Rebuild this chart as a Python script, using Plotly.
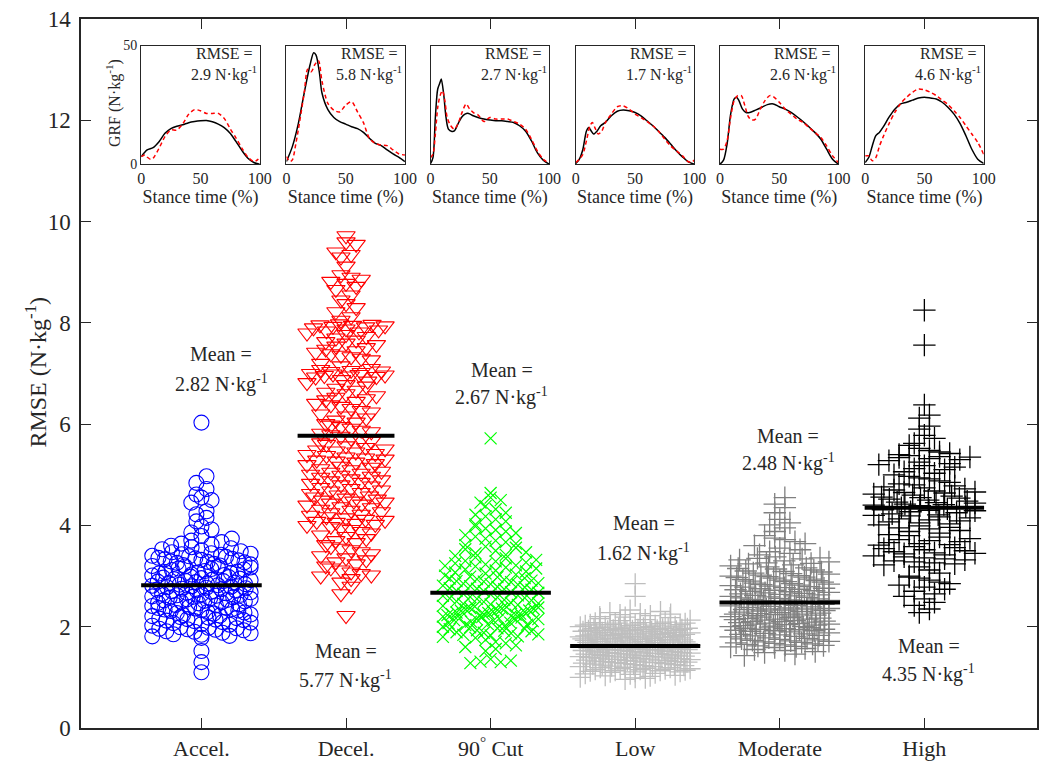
import math
import numpy as np
import plotly.graph_objects as go

# ---------------- data ----------------
categories = ["Accel.", "Decel.", "90<sup>°</sup> Cut", "Low", "Moderate", "High"]
means = [2.82, 5.77, 2.67, 1.62, 2.48, 4.35]
rmse_inset = [2.9, 5.8, 2.7, 1.7, 2.6, 4.6]

accel = [1.10, 1.30, 1.52,
         1.78, 1.82, 1.85, 1.88, 1.91, 1.93, 1.95, 1.97, 1.84, 1.99, 1.90, 1.87, 1.96, 1.81, 1.94, 1.98,
         2.02, 2.05, 2.08, 2.11, 2.13, 2.16, 2.18, 2.21, 2.23, 2.26, 2.28, 2.31, 2.33, 2.36, 2.38, 2.41,
         2.43, 2.46, 2.48, 2.04, 2.09, 2.14, 2.19, 2.24, 2.29, 2.34, 2.39, 2.44, 2.49, 2.07, 2.12, 2.17,
         2.22, 2.27, 2.32, 2.37, 2.42, 2.47, 2.15, 2.35,
         2.51, 2.53, 2.55, 2.57, 2.59, 2.61, 2.63, 2.65, 2.67, 2.69, 2.71, 2.73, 2.75, 2.77, 2.79, 2.81,
         2.83, 2.85, 2.87, 2.89, 2.91, 2.93, 2.95, 2.97, 2.99, 2.52, 2.56, 2.60, 2.64, 2.68, 2.72, 2.76,
         2.80, 2.84, 2.88, 2.92, 2.96, 2.54, 2.62, 2.70, 2.78, 2.86, 2.94, 2.58, 2.66, 2.74, 2.82, 2.90,
         2.98, 2.50,
         3.01, 3.03, 3.05, 3.08, 3.10, 3.12, 3.15, 3.17, 3.19, 3.22, 3.24, 3.26, 3.29, 3.31, 3.33, 3.36,
         3.38, 3.40, 3.43, 3.45, 3.47, 3.02, 3.07, 3.13, 3.18, 3.23, 3.28, 3.34, 3.39, 3.44, 3.49, 3.06,
         3.14, 3.21, 3.27, 3.35, 3.42, 3.09, 3.20, 3.32,
         3.51, 3.53, 3.55, 3.57, 3.60, 3.62, 3.64, 3.67, 3.70, 3.74, 3.79, 3.86, 3.92, 3.98,
         4.08, 4.15, 4.22, 4.28, 4.45, 4.50,
         4.55, 4.61, 4.72, 4.84, 4.97,
         6.03]

decel = [9.72, 9.60, 9.55,
         9.40, 9.35, 9.30, 9.12,
         8.95, 8.90, 8.86, 8.82, 8.78, 8.72, 8.66, 8.55,
         8.45, 8.38, 8.30, 8.22, 8.12, 8.05,
         7.98, 7.97, 7.96, 7.95, 7.94, 7.93, 7.92, 7.90, 7.88, 7.86, 7.84, 7.82, 7.80, 7.77,
         7.73, 7.70, 7.66, 7.63, 7.60, 7.57, 7.54, 7.51,
         7.48, 7.45, 7.42, 7.39, 7.36, 7.33, 7.30, 7.27,
         7.10, 7.08, 7.06, 7.05, 7.04, 7.02, 7.00, 6.99, 6.98, 6.97, 6.96, 6.95, 6.94, 6.93, 7.20, 7.15,
         6.88, 6.85, 6.82, 6.78, 6.75, 6.71, 6.67, 6.63, 6.60, 6.56, 6.53, 6.50,
         6.48, 6.45, 6.41, 6.38, 6.35, 6.31, 6.27, 6.24, 6.20, 6.16, 6.12, 6.08, 6.04, 6.01,
         5.98, 5.95, 5.92, 5.88, 5.85, 5.82, 5.79, 5.76, 5.72, 5.69, 5.66, 5.63, 5.60, 5.57, 5.54, 5.51,
         5.49, 5.47, 5.45, 5.42, 5.40, 5.38, 5.35, 5.33, 5.31, 5.29, 5.27, 5.25, 5.22, 5.20, 5.17, 5.15,
         5.12, 5.10, 5.07, 5.05, 5.03, 5.01,
         4.99, 4.97, 4.95, 4.92, 4.90, 4.88, 4.85, 4.83, 4.80, 4.78, 4.75, 4.73, 4.70, 4.68, 4.65, 4.63,
         4.60, 4.58, 4.56, 4.54, 4.52, 4.50,
         4.48, 4.46, 4.44, 4.42, 4.40, 4.37, 4.35, 4.32, 4.30, 4.27, 4.25, 4.22, 4.20, 4.17, 4.15, 4.12,
         4.10, 4.08, 4.06, 4.04, 4.02, 4.00,
         3.98, 3.95, 3.92, 3.88, 3.85, 3.81, 3.78, 3.74, 3.70, 3.66, 3.62, 3.58, 3.55, 3.52,
         3.48, 3.44, 3.40, 3.36, 3.32, 3.28, 3.24, 3.20, 3.16, 3.12, 3.08, 3.05, 3.02, 3.00,
         2.95, 2.88, 2.80, 2.65,
         2.22]

cut90 = [5.72,
         4.64, 4.55, 4.50,
         4.45, 4.38, 4.32, 4.25, 4.21,
         4.18, 4.12, 4.08, 4.02, 3.98, 3.94, 3.91,
         3.88, 3.85, 3.81, 3.78, 3.74, 3.70, 3.67, 3.64, 3.61,
         3.58, 3.56, 3.53, 3.50, 3.47, 3.45, 3.42, 3.40, 3.37, 3.35, 3.32, 3.30,
         3.29, 3.27, 3.25, 3.23, 3.21, 3.19, 3.17, 3.15, 3.13, 3.11, 3.09, 3.07, 3.05, 3.03, 3.01, 3.20,
         2.70, 2.71, 2.73, 2.74, 2.75, 2.76, 2.78, 2.79, 2.80, 2.81, 2.83, 2.84, 2.85, 2.86, 2.88, 2.89,
         2.90, 2.91, 2.93, 2.94, 2.95, 2.96, 2.98, 2.99,
         2.40, 2.41, 2.43, 2.44, 2.46, 2.47, 2.49, 2.50, 2.52, 2.53, 2.55, 2.56, 2.58, 2.59, 2.61, 2.62,
         2.64, 2.65, 2.67, 2.68, 2.45, 2.57,
         2.10, 2.11, 2.12, 2.13, 2.14, 2.15, 2.16, 2.17, 2.18, 2.19, 2.20, 2.21, 2.22, 2.23, 2.24, 2.25,
         2.26, 2.27, 2.28, 2.29, 2.30, 2.31, 2.32, 2.33, 2.34, 2.35, 2.36, 2.37, 2.38, 2.39, 2.15, 2.25,
         1.80, 1.81, 1.83, 1.84, 1.85, 1.87, 1.88, 1.89, 1.91, 1.92, 1.93, 1.95, 1.96, 1.97, 1.99, 2.00,
         2.01, 2.03, 2.04, 2.05, 2.07, 2.08,
         1.52, 1.56, 1.60, 1.63, 1.67, 1.70, 1.74, 1.78,
         1.28, 1.30, 1.31, 1.33, 1.36]

low = [2.85, 2.60,
       2.12, 2.14, 2.16, 2.18, 2.20, 2.22, 2.24, 2.26, 2.28, 2.30, 2.33, 2.13, 2.19, 2.25,
       1.90, 1.91, 1.92, 1.93, 1.94, 1.95, 1.96, 1.97, 1.98, 1.99, 2.00, 2.01, 2.02, 2.03, 2.04, 2.05,
       2.06, 2.07, 2.08, 2.09, 1.91, 1.93, 1.95, 1.97, 1.99, 2.01, 2.03, 2.05, 2.07, 1.92, 1.96, 2.00,
       2.04, 2.08, 1.94, 1.98,
       1.70, 1.71, 1.72, 1.73, 1.74, 1.75, 1.76, 1.77, 1.78, 1.79, 1.80, 1.81, 1.82, 1.83, 1.84, 1.85,
       1.86, 1.87, 1.88, 1.89, 1.70, 1.72, 1.74, 1.76, 1.78, 1.80, 1.82, 1.84, 1.86, 1.88, 1.71, 1.73,
       1.75, 1.77, 1.79, 1.81, 1.83, 1.85, 1.87, 1.89, 1.75, 1.80, 1.85, 1.78,
       1.50, 1.51, 1.52, 1.53, 1.54, 1.55, 1.56, 1.57, 1.58, 1.59, 1.60, 1.61, 1.62, 1.63, 1.64, 1.65,
       1.66, 1.67, 1.68, 1.69, 1.50, 1.52, 1.54, 1.56, 1.58, 1.60, 1.62, 1.64, 1.66, 1.68, 1.51, 1.53,
       1.55, 1.57, 1.59, 1.61, 1.63, 1.65, 1.67, 1.69, 1.55, 1.60, 1.65, 1.62,
       1.30, 1.31, 1.32, 1.33, 1.34, 1.35, 1.36, 1.37, 1.38, 1.39, 1.40, 1.41, 1.42, 1.43, 1.44, 1.45,
       1.46, 1.47, 1.48, 1.49, 1.30, 1.32, 1.34, 1.36, 1.38, 1.40, 1.42, 1.44, 1.46, 1.48, 1.31, 1.33,
       1.35, 1.37, 1.39, 1.41, 1.43, 1.45, 1.47, 1.49,
       1.10, 1.11, 1.12, 1.13, 1.14, 1.15, 1.16, 1.17, 1.18, 1.19, 1.20, 1.21, 1.22, 1.23, 1.24, 1.25,
       1.26, 1.27, 1.28, 1.29, 1.11, 1.13, 1.15, 1.17, 1.19, 1.21, 1.23, 1.25, 1.27, 1.29,
       0.96, 0.98, 1.00, 1.02, 1.04, 1.06, 1.08, 0.99, 1.03, 1.07]

moderate = [4.55, 4.42, 4.35,
            4.25, 4.12, 4.05, 4.01,
            3.95, 3.88, 3.80, 3.75, 3.72,
            3.68, 3.64, 3.60, 3.55, 3.52, 3.48, 3.45, 3.42,
            3.38, 3.36, 3.34, 3.32, 3.30, 3.28, 3.26, 3.24, 3.22, 3.20, 3.18, 3.16, 3.14, 3.12, 3.10,
            3.35, 3.25, 3.15,
            2.80, 2.81, 2.82, 2.84, 2.85, 2.86, 2.88, 2.89, 2.90, 2.92, 2.93, 2.94, 2.96, 2.97, 2.98,
            3.00, 3.01, 3.02, 3.04, 3.05, 3.06, 3.08, 3.09, 2.83, 2.91, 2.99,
            2.50, 2.51, 2.52, 2.53, 2.54, 2.55, 2.56, 2.57, 2.58, 2.59, 2.60, 2.61, 2.62, 2.63, 2.64,
            2.65, 2.66, 2.67, 2.68, 2.69, 2.70, 2.71, 2.72, 2.73, 2.74, 2.75, 2.76, 2.77, 2.78, 2.79,
            2.20, 2.21, 2.22, 2.23, 2.24, 2.25, 2.26, 2.27, 2.28, 2.29, 2.30, 2.31, 2.32, 2.33, 2.34,
            2.35, 2.36, 2.37, 2.38, 2.39, 2.40, 2.41, 2.42, 2.43, 2.44, 2.45, 2.46, 2.47, 2.48, 2.49,
            2.25, 2.35,
            1.90, 1.91, 1.92, 1.93, 1.94, 1.95, 1.96, 1.97, 1.98, 1.99, 2.00, 2.01, 2.02, 2.03, 2.04,
            2.05, 2.06, 2.07, 2.08, 2.09, 2.10, 2.11, 2.12, 2.13, 2.14, 2.15, 2.16, 2.17, 2.18, 2.19,
            1.95, 2.00, 2.05, 2.10, 2.15, 1.92,
            1.60, 1.61, 1.62, 1.63, 1.65, 1.66, 1.67, 1.68, 1.70, 1.71, 1.72, 1.73, 1.75, 1.76, 1.77,
            1.78, 1.80, 1.81, 1.82, 1.83, 1.85, 1.86, 1.87, 1.88, 1.64, 1.74, 1.84, 1.69,
            1.43, 1.46, 1.49, 1.51, 1.53, 1.55, 1.57, 1.59]

high = [8.25, 7.56,
        6.38, 6.18, 6.12,
        5.96, 5.90, 5.78, 5.72, 5.62,
        5.58, 5.52, 5.45, 5.40, 5.38, 5.36, 5.35, 5.34, 5.32, 5.30, 5.28, 5.25, 5.22, 5.20, 5.42, 5.48,
        5.18, 5.15, 5.12, 5.10, 5.06, 5.03, 5.00, 4.97, 4.94, 4.92, 4.88, 4.85, 4.82, 4.80,
        4.78, 4.76, 4.74, 4.72, 4.70, 4.68, 4.66, 4.64, 4.62, 4.60, 4.58, 4.56, 4.54, 4.52, 4.50, 4.48,
        4.46, 4.44, 4.42, 4.40, 4.45, 4.55, 4.65, 4.41,
        4.39, 4.37, 4.35, 4.33, 4.31, 4.29, 4.27, 4.25, 4.23, 4.21, 4.19, 4.17, 4.15, 4.13, 4.11, 4.09,
        4.07, 4.05, 4.03, 4.01, 4.20, 4.30,
        3.99, 3.96, 3.93, 3.90, 3.88, 3.85, 3.82, 3.80, 3.77, 3.74, 3.72, 3.70, 3.68, 3.66, 3.64, 3.62,
        3.61, 3.95,
        3.58, 3.56, 3.54, 3.52, 3.50, 3.48, 3.46, 3.44, 3.42, 3.40, 3.38, 3.36, 3.34, 3.32, 3.30, 3.28,
        3.26, 3.24, 3.22, 3.45,
        3.18, 3.12, 3.06, 3.00, 2.96, 2.92, 2.88, 2.85, 2.82, 2.98,
        2.78, 2.74, 2.70, 2.65, 2.60, 2.55,
        2.48, 2.42, 2.35, 2.28]

groups = [accel, decel, cut90, low, moderate, high]

# inset GRF curves (stance time %, GRF N/kg): measured (black) and predicted (red dashed)
meas_t = [
    [0, 5, 10, 15, 20, 25, 30, 35, 40, 45, 50, 55, 60, 65, 70, 75, 80, 85, 90, 95, 100],
    [0, 5, 10, 15, 20, 23, 25, 28, 30, 35, 40, 45, 50, 55, 60, 65, 70, 75, 80, 85, 90, 95, 100],
    [0, 2, 4, 6, 8, 9, 11, 13, 15, 18, 20, 23, 26, 29, 32, 36, 40, 45, 50, 55, 60, 65, 70, 75, 80, 85, 90, 95, 100],
    [0, 3, 6, 9, 11, 13, 15, 18, 21, 25, 30, 35, 40, 45, 50, 55, 60, 65, 70, 75, 80, 85, 90, 95, 100],
    [0, 3, 6, 9, 12, 14, 16, 19, 22, 25, 30, 35, 40, 45, 50, 55, 60, 65, 70, 75, 80, 85, 90, 95, 100],
    [0, 3, 6, 9, 12, 15, 20, 25, 30, 35, 40, 45, 50, 55, 60, 65, 70, 75, 80, 85, 90, 95, 100],
]
meas_f = [
    [3.2, 6, 7, 9.5, 13, 15, 16, 16.6, 17.5, 18, 18.3, 18.4, 17.9, 16.9, 15.4, 13, 9.5, 5.7, 2.5, 0.7, 0],
    [1.1, 7.4, 17, 30, 42, 47, 46, 38, 30, 23, 19.7, 17.9, 16.9, 15.8, 15, 13.4, 10.9, 8.8, 7.8, 6, 4.3, 2.9, 1.1],
    [0.3, 2.8, 19.7, 31.7, 34.5, 35.9, 29.6, 19.7, 14.8, 13.8, 14, 16.9, 19.7, 21.1, 21.4, 20.4, 19.7, 19, 18.6,
     18.3, 18.3, 18, 17.6, 16.2, 14, 9.9, 4.9, 1.7, 0],
    [0.3, 2.1, 6.3, 14, 15.5, 14, 12.7, 14, 16.2, 17.6, 20.4, 22.3, 22.8, 22.5, 21.8, 20.4, 18.3, 16.2, 13.8, 11.3,
     8.5, 5.6, 3.1, 1, 0],
    [0, 1.7, 8.5, 21.1, 27.5, 28.2, 26.8, 23.2, 21.8, 21.8, 22.8, 23.9, 25.1, 25.4, 24.2, 23.2, 21.8, 20, 18, 15.8,
     13.4, 10.6, 6.3, 2.1, 0],
    [0.7, 2.8, 7.7, 12, 13.4, 15.5, 19.7, 23.2, 25.4, 26.1, 27, 27.9, 28.2, 27.9, 27.5, 26.1, 23.9, 21.1, 17.2, 12,
     6.3, 2.1, 0.3],
]
pred_t = [
    [0, 3, 5, 8, 10, 15, 20, 25, 30, 35, 40, 45, 50, 55, 60, 65, 70, 75, 80, 85, 90, 95, 98, 100],
    [0, 3, 5, 8, 10, 15, 18, 21, 24, 27, 30, 35, 40, 45, 50, 55, 60, 65, 70, 75, 80, 85, 90, 95, 100],
    [0, 2, 4, 6, 8, 10, 12, 14, 17, 20, 23, 26, 30, 33, 37, 40, 45, 50, 55, 60, 65, 70, 75, 80, 85, 90, 95, 100],
    [0, 3, 6, 9, 12, 14, 16, 19, 22, 25, 30, 35, 40, 45, 50, 55, 60, 65, 70, 75, 80, 85, 90, 95, 98, 100],
    [0, 3, 6, 9, 12, 15, 18, 21, 24, 27, 30, 34, 38, 42, 45, 50, 55, 60, 65, 70, 75, 80, 85, 90, 95, 100],
    [0, 3, 6, 9, 12, 15, 20, 25, 30, 35, 40, 45, 50, 55, 60, 65, 70, 75, 80, 85, 90, 95, 100],
]
pred_f = [
    [3.2, 3.9, 3, 2, 2.5, 6.7, 11.6, 14.4, 14.4, 17, 21, 23, 22.5, 21.4, 21.4, 21.4, 19.3, 15, 11, 6.7, 3, 1.1, 1.8, 3.2],
    [3.2, 1.1, 1.8, 8.8, 14.4, 30, 40, 39, 42, 43.7, 35, 25.6, 22.8, 22, 24.9, 26.3, 22, 17.5, 10.9, 8.8, 8.1, 7.8,
     6, 4.3, 3.9],
    [2.8, 4.2, 12.7, 23.9, 28.9, 31, 26.8, 19.7, 16.2, 14.8, 16.9, 21.1, 25.4, 23.2, 21.4, 20.8, 18, 19.7, 19, 19,
     19, 18, 16.9, 14.8, 10.6, 5.6, 2.1, 0.3],
    [0.7, 2.1, 4.2, 9.9, 16.2, 17.6, 15.5, 12.7, 14, 17.6, 21.1, 24.2, 24.6, 23.2, 21.1, 19.7, 18, 16.2, 13.8, 10.6,
     7.7, 5.6, 3.5, 1, 1, 1.7],
    [6.3, 6.3, 9.9, 19.7, 26.8, 28.9, 28.9, 24.6, 20, 18.6, 19, 23.2, 26.8, 28.9, 28.5, 26.1, 23.2, 21.1, 19, 17.6,
     15.5, 13.4, 11.3, 7.7, 3.5, 0.7],
    [3.5, 3.5, 1.4, 2.8, 7.5, 11.3, 16.9, 21.8, 25.6, 28.2, 30.3, 31.7, 31.3, 30.3, 28.9, 27, 25.1, 22.5, 19.7,
     16.2, 12.7, 9.2, 4.2],
]

# ---------------- styles ----------------
FONT = "Liberation Serif, Times New Roman, serif"
TXT = "#262626"
W, H = 1056, 771
ML, MR, MT, MB = 81, 7, 15, 43
XR = [0.167, 6.779]
YR = [0, 14]

marker_styles = [
    dict(symbol="circle-open", size=15, color="#0000FF", line=dict(color="#0000FF", width=1.1)),
    dict(symbol="triangle-down-open", size=16, color="#FF0000", line=dict(color="#FF0000", width=1.1)),
    dict(symbol="x-thin", size=12, color="#00FF00", line=dict(color="#00FF00", width=1.2)),
    dict(symbol="cross-thin", size=15, color="#BEBEBE", line=dict(color="#BEBEBE", width=1.3)),
    dict(symbol="cross-thin", size=16, color="#808080", line=dict(color="#808080", width=1.3)),
    dict(symbol="cross-thin", size=16, color="#000000", line=dict(color="#000000", width=1.3)),
]
spread_max = [0.34, 0.27, 0.33, 0.38, 0.34, 0.35]
mean_halfwidth = [0.417, 0.335, 0.417, 0.45, 0.417, 0.413]
# (x, y of "Mean =" line, y of value line) in main-axis units
mean_label_pos = [(1.137, 7.38, 6.81), (1.998, 1.53, 0.96), (3.077, 7.07, 6.54),
                  (4.06, 4.04, 3.475), (5.06, 5.77, 5.24), (6.03, 1.61, 1.08)]


def spread(vals, wmax, c=0.035, binw=0.2):
    """plotSpread-like layout: points binned in y, spread in x proportional to bin count."""
    vals = np.asarray(vals, dtype=float)
    offs = np.zeros(len(vals))
    bins = np.floor(vals / binw).astype(int)
    for b in np.unique(bins):
        idx = np.where(bins == b)[0]
        idx = idx[np.argsort(vals[idx], kind="stable")]
        n = len(idx)
        if n == 1:
            continue
        half = min(wmax, c * (n - 1))
        slots = np.linspace(-half, half, n)
        p = max(1, int(round(n * 0.618)))
        while math.gcd(p, n) != 1:
            p += 1
        for i, k in enumerate(idx):
            offs[k] = slots[(i * p) % n]
    return offs


fig = go.Figure()

for gi, vals in enumerate(groups):
    xo = spread(vals, spread_max[gi])
    fig.add_trace(go.Scatter(
        x=(gi + 1) + xo, y=vals, mode="markers",
        marker=marker_styles[gi], showlegend=False, hoverinfo="skip",
        xaxis="x", yaxis="y"))

for gi, m in enumerate(means):
    hw = mean_halfwidth[gi]
    fig.add_trace(go.Scatter(
        x=[gi + 1 - hw, gi + 1 + hw], y=[m, m], mode="lines",
        line=dict(color="black", width=4), showlegend=False, hoverinfo="skip",
        xaxis="x", yaxis="y"))
    lx, ly1, ly2 = mean_label_pos[gi]
    fig.add_annotation(x=lx, y=ly1, xref="x", yref="y", text="Mean =",
                       showarrow=False, xanchor="center", yanchor="middle",
                       font=dict(family=FONT, size=20, color=TXT))
    fig.add_annotation(x=lx, y=ly2, xref="x", yref="y", text=f"{m:.2f} N·kg<sup>-1</sup>",
                       showarrow=False, xanchor="center", yanchor="middle",
                       font=dict(family=FONT, size=20, color=TXT))

# insets
inset_left_px = [142, 289, 435, 582, 728, 875]
inset_w_px = 120
inset_top_px, inset_bot_px = 41.7, 161
pw = W - ML - MR
ph = H - MT - MB
ydom = [(H - MB - inset_bot_px) / ph, (H - MB - inset_top_px) / ph]

layout_axes = {}
for i in range(6):
    k = i + 2
    xd = [(inset_left_px[i] - ML) / pw, (inset_left_px[i] + inset_w_px - ML) / pw]
    fig.add_trace(go.Scatter(x=meas_t[i], y=meas_f[i], mode="lines",
                             line=dict(color="black", width=1.5, shape="spline", smoothing=0.8),
                             showlegend=False, hoverinfo="skip", xaxis=f"x{k}", yaxis=f"y{k}"))
    fig.add_trace(go.Scatter(x=pred_t[i], y=pred_f[i], mode="lines",
                             line=dict(color="#FF0000", width=1.5, dash="4px,3px", shape="spline",
                                       smoothing=0.8),
                             showlegend=False, hoverinfo="skip", xaxis=f"x{k}", yaxis=f"y{k}"))
    layout_axes[f"xaxis{k}"] = dict(
        domain=xd, anchor=f"y{k}", range=[0, 100], tickvals=[0, 50, 100],
        showline=True, mirror=True, linecolor=TXT, linewidth=1.2, showgrid=False, zeroline=False,
        ticks="", tickfont=dict(family=FONT, size=16, color=TXT),
        title=dict(text="Stance time (%)", font=dict(family=FONT, size=18, color=TXT), standoff=3))
    layout_axes[f"yaxis{k}"] = dict(
        domain=ydom, anchor=f"x{k}", range=[0, 50], tickvals=[0, 50],
        showticklabels=(i == 0), showline=True, mirror=True, linecolor=TXT, linewidth=1.2,
        showgrid=False, zeroline=False, ticks="",
        tickfont=dict(family=FONT, size=14, color=TXT))
    fig.add_annotation(x=70, y=46.6, xref=f"x{k}", yref=f"y{k}", text="RMSE =",
                       showarrow=False, xanchor="center", yanchor="middle",
                       font=dict(family=FONT, size=16, color=TXT))
    fig.add_annotation(x=70, y=38.1, xref=f"x{k}", yref=f"y{k}",
                       text=f"{rmse_inset[i]:.1f} N·kg<sup>-1</sup>",
                       showarrow=False, xanchor="center", yanchor="middle",
                       font=dict(family=FONT, size=16, color=TXT))

# GRF inset y label
fig.add_annotation(x=(114 - ML) / pw, y=(H - MB - 100) / ph, xref="paper", yref="paper",
                   text="GRF (N·kg<sup>-1</sup>)", textangle=-90, showarrow=False,
                   xanchor="center", yanchor="middle",
                   font=dict(family=FONT, size=16, color=TXT))
# main y label
fig.add_annotation(x=(35 - ML) / pw, y=(H - MB - 370) / ph, xref="paper", yref="paper",
                   text="RMSE (N·kg<sup>-1</sup>)", textangle=-90, showarrow=False,
                   xanchor="center", yanchor="middle",
                   font=dict(family=FONT, size=24, color=TXT))

fig.update_layout(
    width=W, height=H, margin=dict(l=ML, r=MR, t=MT, b=MB, pad=0),
    paper_bgcolor="white", plot_bgcolor="white",
    xaxis=dict(range=XR, tickvals=[1, 2, 3, 4, 5, 6], ticktext=categories,
               ticks="inside", ticklen=10, tickcolor=TXT, showline=True, mirror="ticks",
               linecolor=TXT, linewidth=1.5, showgrid=False, zeroline=False,
               tickfont=dict(family=FONT, size=22, color=TXT)),
    yaxis=dict(range=YR, tickvals=[0, 2, 4, 6, 8, 10, 12, 14],
               ticks="inside", ticklen=10, tickcolor=TXT, showline=True, mirror="ticks",
               linecolor=TXT, linewidth=1.5, showgrid=False, zeroline=False,
               ticklabelstandoff=4,
               tickfont=dict(family=FONT, size=23, color=TXT)),
    **layout_axes,
)

fig.write_html("out.html")
